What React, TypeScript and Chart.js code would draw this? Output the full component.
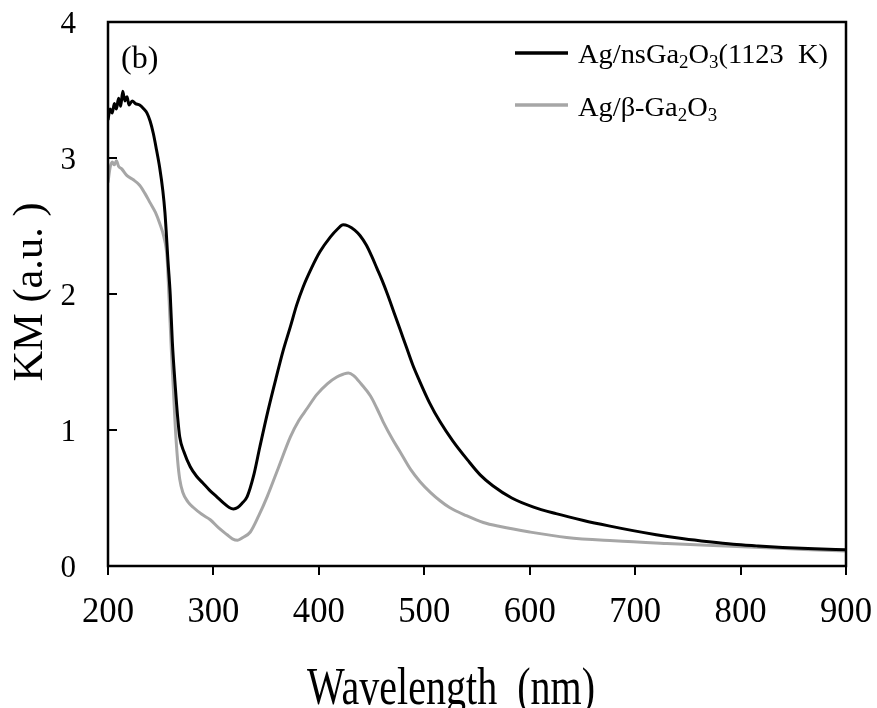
import React, { useEffect, useRef } from "react";
import { Chart, registerables } from "chart.js";

Chart.register(...registerables);

// ---------------- data ----------------
const nsWavelength = [
  200, 202, 204, 206, 208, 210, 212, 214, 216, 218, 220, 223, 226, 230, 234, 237, 240, 243, 246, 249,
  252, 254, 257, 259, 261, 264, 266, 268, 272, 278, 284, 290, 296, 303, 310, 315, 319, 323, 327, 332,
  338, 344, 352, 360, 366, 373, 379, 385, 393, 401, 411, 418, 423, 428, 434, 439, 445, 450, 455, 460,
  465, 471, 477, 483, 489, 495, 505, 515, 527, 541, 553, 565, 583, 603, 625, 651, 675, 698, 720, 746,
  770, 793, 815, 840, 870, 900,
];
const nsKM = [
  3.28, 3.36, 3.33, 3.4, 3.36, 3.44, 3.38, 3.49, 3.42, 3.45, 3.39, 3.42, 3.4, 3.39, 3.36, 3.33, 3.27, 3.18, 3.06, 2.93,
  2.76, 2.6, 2.23, 2.0, 1.65, 1.3, 1.1, 0.95, 0.84, 0.73, 0.66, 0.61, 0.56, 0.51, 0.46, 0.43, 0.42, 0.43, 0.46, 0.51,
  0.66, 0.875, 1.15, 1.4, 1.58, 1.76, 1.92, 2.05, 2.19, 2.31, 2.42, 2.48, 2.51, 2.5, 2.47, 2.43, 2.36, 2.28, 2.19, 2.1,
  2.0, 1.87, 1.74, 1.61, 1.48, 1.37, 1.2, 1.06, 0.92, 0.78, 0.67, 0.59, 0.5, 0.435, 0.385, 0.335, 0.295, 0.26, 0.23, 0.2,
  0.178, 0.16, 0.148, 0.136, 0.126, 0.12,
];

const betaWavelength = [
  200, 202, 204, 206, 208, 210, 213, 218, 224, 230, 235, 240, 245, 249, 253, 256, 258, 260, 262, 264,
  266, 268, 271, 276, 281, 289, 297, 305, 313, 318, 323, 328, 335, 343, 351, 362, 373, 381, 389, 398,
  408, 417, 423, 428, 433, 440, 449, 455, 461, 470, 477, 487, 496, 506, 515, 524, 540, 556, 572, 600,
  635, 680, 730, 780, 825, 860, 900,
];
const betaKM = [
  2.82, 2.93, 2.97, 2.95, 2.98, 2.94, 2.92, 2.87, 2.84, 2.8, 2.74, 2.67, 2.6, 2.52, 2.42, 2.27, 1.95, 1.6, 1.3, 1.0,
  0.78, 0.64, 0.54, 0.47, 0.43, 0.38, 0.34, 0.28, 0.23, 0.2, 0.19, 0.21, 0.25, 0.37, 0.51, 0.73, 0.95, 1.07, 1.16, 1.26,
  1.34, 1.39, 1.41, 1.42, 1.4, 1.34, 1.25, 1.16, 1.06, 0.93, 0.84, 0.71, 0.62, 0.54, 0.48, 0.43, 0.37, 0.32, 0.29, 0.25,
  0.21, 0.185, 0.165, 0.148, 0.134, 0.122, 0.11,
];

const xTickValues = [200, 300, 400, 500, 600, 700, 800, 900];
const yTickValues = [0, 1, 2, 3, 4];

// legend labels as [text, isSubscript]
const nsLabel: [string, boolean][] = [["Ag/nsGa", false], ["2", true], ["O", false], ["3", true], ["(1123  K)", false]];
const betaLabel: [string, boolean][] = [["Ag/β-Ga", false], ["2", true], ["O", false], ["3", true]];
const xTitle = "Wavelength  (nm)";
const yTitle = "KM (a.u. )";
const panelLabel = "(b)";

const FF = "'Liberation Serif', 'Times New Roman', Times, serif";

function segWidth(ctx: CanvasRenderingContext2D, segs: [string, boolean][], size: number, subSize: number) {
  let w = 0;
  for (const [t, sub] of segs) {
    ctx.font = `${sub ? subSize : size}px ${FF}`;
    w += ctx.measureText(t).width;
  }
  return w;
}

function drawSegs(
  ctx: CanvasRenderingContext2D,
  segs: [string, boolean][],
  x: number,
  y: number,
  size: number,
  subSize: number,
  subDy: number,
  sx: number
) {
  ctx.save();
  ctx.translate(x, y);
  ctx.scale(sx, 1);
  ctx.textAlign = "left";
  ctx.textBaseline = "alphabetic";
  let cx = 0;
  for (const [t, sub] of segs) {
    ctx.font = `${sub ? subSize : size}px ${FF}`;
    ctx.fillText(t, cx, sub ? subDy : 0);
    cx += ctx.measureText(t).width;
  }
  ctx.restore();
}

const overlayPlugin = {
  id: "overlay",
  afterDraw(chart: any) {
    const ctx: CanvasRenderingContext2D = chart.ctx;
    const { left, right, top, bottom } = chart.chartArea;
    const xs = chart.scales.x;
    const ys = chart.scales.y;
    ctx.save();
    ctx.fillStyle = "#000";
    ctx.strokeStyle = "#000";

    // frame
    ctx.lineWidth = 2.5;
    ctx.strokeRect(left, top, right - left, bottom - top);

    // x ticks (outward)
    ctx.lineWidth = 2;
    for (const v of xTickValues) {
      const px = Math.round(xs.getPixelForValue(v));
      ctx.beginPath();
      ctx.moveTo(px, bottom);
      ctx.lineTo(px, bottom + 9);
      ctx.stroke();
    }
    // y ticks (inward)
    for (const v of yTickValues) {
      const py = Math.round(ys.getPixelForValue(v));
      ctx.beginPath();
      ctx.moveTo(left, py);
      ctx.lineTo(left + 9, py);
      ctx.stroke();
    }

    // x tick labels
    ctx.font = `35px ${FF}`;
    ctx.textAlign = "center";
    ctx.textBaseline = "alphabetic";
    for (const v of xTickValues) {
      const t = String(v);
      const w = ctx.measureText(t).width;
      ctx.save();
      ctx.translate(xs.getPixelForValue(v), bottom + 56);
      ctx.scale(52 / w, 1);
      ctx.fillText(t, 0, 0);
      ctx.restore();
    }
    // y tick labels
    ctx.font = `31px ${FF}`;
    ctx.textAlign = "right";
    for (const v of yTickValues) {
      ctx.fillText(String(v), left - 32, ys.getPixelForValue(v) + 10.5);
    }

    // x title
    ctx.font = `52px ${FF}`;
    const xtw = ctx.measureText(xTitle).width;
    ctx.save();
    ctx.translate(451, 704);
    ctx.scale(288 / xtw, 1);
    ctx.textAlign = "center";
    ctx.fillText(xTitle, 0, 0);
    ctx.restore();

    // y title
    ctx.font = `42px ${FF}`;
    const ytw = ctx.measureText(yTitle).width;
    ctx.save();
    ctx.translate(42, 292);
    ctx.rotate(-Math.PI / 2);
    ctx.scale(179 / ytw, 1);
    ctx.textAlign = "center";
    ctx.fillText(yTitle, 0, 0);
    ctx.restore();

    // panel label
    ctx.font = `32px ${FF}`;
    ctx.textAlign = "left";
    ctx.fillText(panelLabel, left + 13, 68);

    // legend
    const lw = segWidth(ctx, nsLabel, 27, 18);
    const sx = 250 / lw;
    ctx.lineWidth = 3.5;
    ctx.strokeStyle = "#000";
    ctx.beginPath();
    ctx.moveTo(515, 53);
    ctx.lineTo(568, 53);
    ctx.stroke();
    drawSegs(ctx, nsLabel, 578, 63, 27, 18, 5, sx);
    ctx.strokeStyle = "#a6a6a6";
    ctx.beginPath();
    ctx.moveTo(515, 105);
    ctx.lineTo(568, 105);
    ctx.stroke();
    drawSegs(ctx, betaLabel, 578, 116, 27, 18, 5, sx);

    ctx.restore();
  },
};

export default function App() {
  const ref = useRef<HTMLCanvasElement | null>(null);
  useEffect(() => {
    if (!ref.current) return;
    const chart = new Chart(ref.current, {
      type: "line",
      data: {
        datasets: [
          {
            label: "Ag/nsGa2O3(1123 K)",
            data: nsWavelength.map((x, i) => ({ x, y: nsKM[i] })),
            borderColor: "#000000",
            borderWidth: 3,
            pointRadius: 0,
            cubicInterpolationMode: "monotone",
            fill: false,
          },
          {
            label: "Ag/β-Ga2O3",
            data: betaWavelength.map((x, i) => ({ x, y: betaKM[i] })),
            borderColor: "#a6a6a6",
            borderWidth: 3,
            pointRadius: 0,
            cubicInterpolationMode: "monotone",
            fill: false,
          },
        ],
      },
      options: {
        animation: false,
        responsive: false,
        devicePixelRatio: 1,
        layout: { padding: { top: 22, right: 31, left: 0, bottom: 0 } },
        plugins: { legend: { display: false }, tooltip: { enabled: false }, title: { display: false } },
        scales: {
          x: {
            type: "linear",
            min: 200,
            max: 900,
            ticks: { display: false, stepSize: 100 },
            grid: { display: false, drawTicks: false },
            border: { display: false },
            afterFit: (s: any) => {
              s.height = 142;
            },
          },
          y: {
            type: "linear",
            min: 0,
            max: 4,
            ticks: { display: false, stepSize: 1 },
            grid: { display: false, drawTicks: false },
            border: { display: false },
            afterFit: (s: any) => {
              s.width = 108;
            },
          },
        },
      },
      plugins: [overlayPlugin],
    } as any);
    return () => chart.destroy();
  }, []);
  return (
    <div style={{ position: "absolute", left: 0, top: 0, width: 877, height: 708, background: "#fff" }}>
      <canvas ref={ref} width={877} height={708} style={{ display: "block", width: 877, height: 708 }} />
    </div>
  );
}
